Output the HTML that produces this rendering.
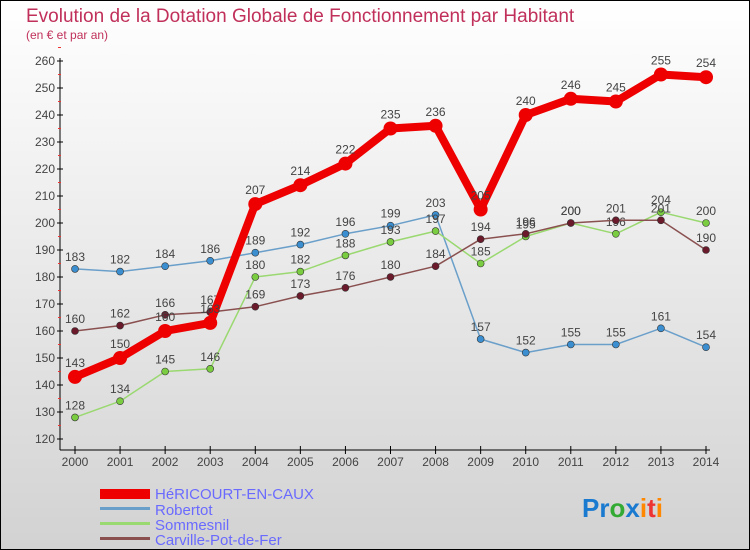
<!DOCTYPE html>
<html><head><meta charset="utf-8"><style>
body{margin:0;}
svg{display:block;font-family:"Liberation Sans",sans-serif;}
</style></head><body>
<svg id="c" width="750" height="550" xmlns="http://www.w3.org/2000/svg">
<defs><linearGradient id="bg" x1="0" y1="0" x2="0" y2="1"><stop offset="0" stop-color="#ffffff"/><stop offset="1" stop-color="#d2d2d2"/></linearGradient></defs>
<rect x="0.5" y="0.5" width="749" height="549" fill="url(#bg)" stroke="#000"/>
<text x="26" y="22" font-size="19" fill="#c0305a">Evolution de la Dotation Globale de Fonctionnement par Habitant</text>
<text x="26" y="39" font-size="12" fill="#c0305a">(en € et par an)</text>
<g id="axes"></g>
<g id="series"></g>
<g id="legend">
<rect x="100" y="489" width="50" height="10" fill="#e00"/>
<text x="155" y="499" font-size="15" fill="#6a6aff">HéRICOURT-EN-CAUX</text>
<rect x="100" y="507" width="50" height="3" fill="#6a9fca"/>
<text x="155" y="515" font-size="15" fill="#6a6aff">Robertot</text>
<rect x="100" y="522" width="50" height="3" fill="#9ad870"/>
<text x="155" y="530" font-size="15" fill="#6a6aff">Sommesnil</text>
<rect x="100" y="537" width="50" height="3" fill="#8a5050"/>
<text x="155" y="545" font-size="15" fill="#6a6aff">Carville-Pot-de-Fer</text>
</g>
<text x="582" y="517" font-size="26" font-weight="bold"><tspan fill="#1a7ad0">Pr</tspan><tspan fill="#3a3">o</tspan><tspan fill="#1a7ad0">x</tspan><tspan fill="#f80">i</tspan><tspan fill="#e33">t</tspan><tspan fill="#f80">i</tspan></text>
</svg>
<script>
const years=[2000,2001,2002,2003,2004,2005,2006,2007,2008,2009,2010,2011,2012,2013,2014];
const yTicks=[120,130,140,150,160,170,180,190,200,210,220,230,240,250,260];
const hericourt=[143,150,160,163,207,214,222,235,236,205,240,246,245,255,254];
const robertot=[183,182,184,186,189,192,196,199,203,157,152,155,155,161,154];
const sommesnil=[128,134,145,146,180,182,188,193,197,185,195,200,196,204,200];
const carville=[160,162,166,167,169,173,176,180,184,194,196,200,201,201,190];
const NS="http://www.w3.org/2000/svg";
function X(i){return 75+i*(706-75)/(years.length-1);}
function Y(v){return 439-(v-120)*(439-61)/140;}
function mk(tag,attrs,parent){const e=document.createElementNS(NS,tag);for(const k in attrs)e.setAttribute(k,attrs[k]);parent.appendChild(e);return e;}
const ax=document.getElementById('axes');
let l=mk('line',{x1:60,y1:58,x2:60,y2:450,stroke:'#000'},ax);


l=mk('line',{x1:60,y1:450,x2:710,y2:450,stroke:'#000'},ax);


yTicks.forEach(v=>{
  mk('line',{x1:57,y1:Y(v),x2:63,y2:Y(v),stroke:'#000'},ax);
  mk('line',{x1:58,y1:Y(v+5),x2:61,y2:Y(v+5),stroke:'#e33'},ax);
  const t=mk('text',{x:55,y:Y(v)+4,'font-size':12,'text-anchor':'end',fill:'#444'},ax);
  t.textContent=v;
  
  
});
years.forEach((yr,i)=>{
  mk('line',{x1:X(i),y1:446,x2:X(i),y2:454,stroke:'#000'},ax);
  const t=mk('text',{x:X(i),y:466,'font-size':12,'text-anchor':'middle',fill:'#444'},ax);
  t.textContent=yr;
  
  
});
const sg=document.getElementById('series');
function draw(data,color,w,r,dot,name){
  const g=mk('g',{},sg);
  
  
  const p=mk('polyline',{points:data.map((v,i)=>X(i)+','+Y(v)).join(' '),fill:'none',stroke:color,'stroke-width':w,'stroke-linejoin':'round'},g);
  
  
  data.forEach((v,i)=>{
    const c=mk('circle',{cx:X(i),cy:Y(v),r:r,fill:dot,stroke:'#333','stroke-width':w>5?0:0.6},g);
    
    
    const t=mk('text',{x:X(i),y:Y(v)-(w>5?10:8),'font-size':12,'text-anchor':'middle',fill:'#444'},g);
    t.textContent=v;
    
    
  });
}
draw(robertot,'#6a9fca',1.5,3.5,'#3b8fd0','robertot');
draw(sommesnil,'#9ad870',1.5,3.5,'#7acc40','sommesnil');
draw(carville,'#8a5050',1.5,3.5,'#6a1a2a','carville');
draw(hericourt,'#ee0000',8,7,'#ee0000','hericourt');
</script>
</body></html>
